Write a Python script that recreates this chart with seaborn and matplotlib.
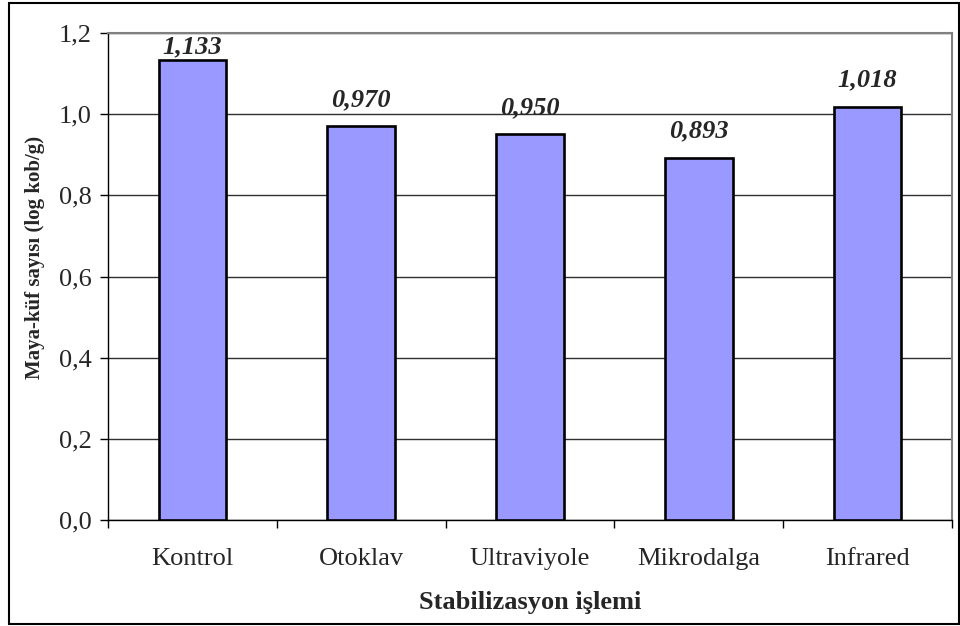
import numpy as np
import pandas as pd
import matplotlib.pyplot as plt
import seaborn as sns
from matplotlib.patches import Rectangle
from matplotlib.ticker import FixedLocator, FuncFormatter

sns.set_style('white')
plt.rcParams['font.family'] = ['Liberation Serif', 'DejaVu Serif']

islemler = ['Kontrol', 'Otoklav', 'Ultraviyole', 'Mikrodalga', 'Infrared']
maya_kuf = [1.133, 0.970, 0.950, 0.893, 1.018]
y_ticks = [0.0, 0.2, 0.4, 0.6, 0.8, 1.0, 1.2]

df = pd.DataFrame({'islem': islemler, 'deger': maya_kuf})

fig = plt.figure(figsize=(9.6, 6.26), dpi=100)
ax = fig.add_axes([108 / 960, 1 - 520 / 626, (952 - 108) / 960, (520 - 33) / 626])

sns.barplot(data=df, x='islem', y='deger', color='#9999FF', saturation=1,
            width=0.4, edgecolor='black', linewidth=1.9, ax=ax, zorder=3)

ax.set_xlim(-0.5, len(islemler) - 0.5)
ax.set_ylim(0, 1.2)
ax.set_yticks(y_ticks)
ax.yaxis.set_major_formatter(FuncFormatter(lambda v, p: f'{v:.1f}'.replace('.', ',')))
ax.grid(axis='y', color='#303030', linewidth=1, zorder=0)
ax.set_axisbelow(True)

# category ticks between bars, labels centred
ax.xaxis.set_major_locator(FixedLocator(np.arange(-0.5, len(islemler), 1.0)))
ax.xaxis.set_minor_locator(FixedLocator(np.arange(len(islemler))))
ax.set_xticklabels([''] * (len(islemler) + 1))
ax.set_xticklabels(islemler, minor=True)
ax.tick_params(axis='x', which='major', direction='out', length=5.8, width=1, color='black', bottom=True)
ax.tick_params(axis='x', which='minor', length=0, labelsize=19, pad=20)
ax.tick_params(axis='y', direction='out', length=5.8, width=1, color='black', left=True,
               labelsize=19, pad=6)

for s in ['top', 'right']:
    ax.spines[s].set_color('#808080')
    ax.spines[s].set_linewidth(1.5)
for s in ['left', 'bottom']:
    ax.spines[s].set_color('black')
    ax.spines[s].set_linewidth(1)

for i, v in enumerate(maya_kuf):
    ax.text(i, min(v + 0.066, 1.166), f'{v:.3f}'.replace('.', ','), ha='center', va='center',
            fontsize=19, fontweight='bold', fontstyle='italic', zorder=5)

ax.set_xlabel('Stabilizasyon işlemi', fontsize=19, fontweight='bold', va='center')
ax.xaxis.set_label_coords(0.5, (520 - 602) / 487)
ax.set_ylabel('Maya-küf sayısı (log kob/g)', fontsize=15, fontweight='bold', va='center')
ax.yaxis.set_label_coords((35 - 108) / 844, (520 - 257) / 487)

fig.patches.append(Rectangle((9 / 960, 1 - 624 / 626), 950 / 960, 621 / 626,
                             transform=fig.transFigure, fill=False, edgecolor='black',
                             linewidth=1.5))

fig.savefig('out.png', dpi=100)
